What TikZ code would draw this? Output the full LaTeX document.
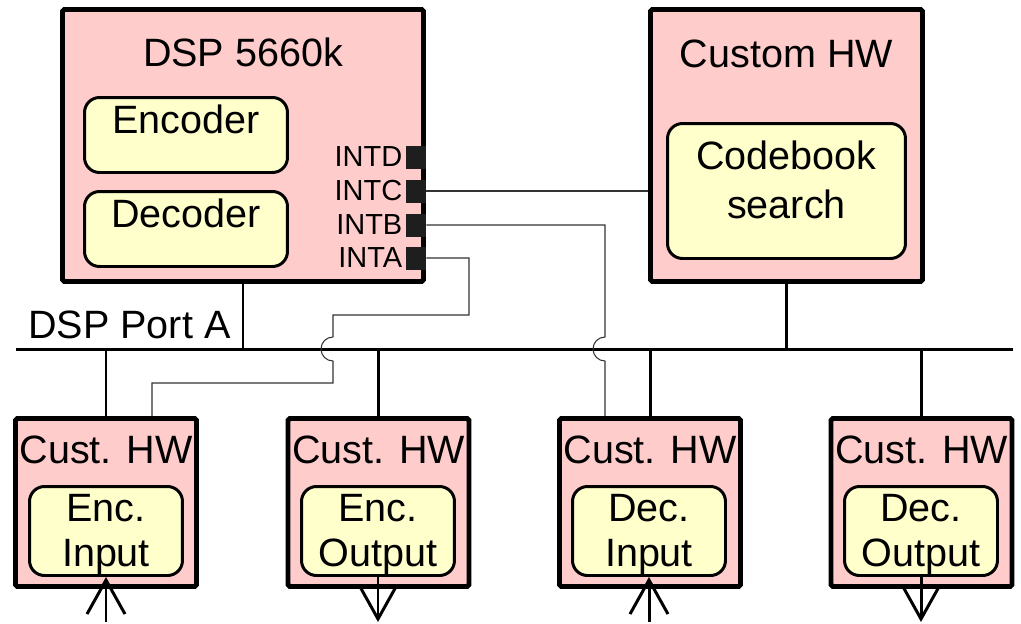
\documentclass[tikz,border=0pt]{standalone}
\usepackage{fontspec}
\setmainfont{Liberation Sans}
\usetikzlibrary{positioning,calc,arrows.meta}

\definecolor{hwpink}{RGB}{255,204,204}
\definecolor{modyellow}{RGB}{255,255,204}
\definecolor{portgray}{RGB}{30,30,30}

\tikzset{
  hwbox/.style={draw, fill=hwpink, line width=2.8pt, inner sep=0pt, rounded corners=1pt},
  modbox/.style={draw, fill=modyellow, line width=1.7pt, inner sep=0pt, rounded corners=0.3cm},
  port/.style={fill=portgray, minimum width=0.4cm, minimum height=0.46cm, inner sep=0pt},
  lbl/.style={inner sep=0pt, align=center, font=\fontsize{22.5}{25.5}\selectfont},
  portlbl/.style={inner sep=0pt, font=\fontsize{16.5}{18}\selectfont},
  bus/.style={line width=1.7pt},
  sig/.style={line width=0.6pt, draw=black!80},
  io/.style={line width=1.7pt, -{Straight Barb[length=6.8mm, width=7.6mm]}}
}

\begin{document}
\begin{tikzpicture}[x=0.02cm, y=-0.02cm]
\useasboundingbox (0,0) rectangle (1021,623);

%Declare nodes.
\node[hwbox, minimum width=7.22cm, minimum height=5.44cm] (dsp) at (243,145.5) {};
\node[lbl, anchor=base] (dsplbl) at (243,66) {DSP 5660k};
\node[modbox, minimum width=4.06cm, minimum height=1.5cm] (enc) at (186,135) {};
\node[lbl, anchor=base] (enclbl) at (186,133) {Encoder};
\node[modbox, minimum width=4.06cm, minimum height=1.5cm] (dec) at (186,229) {};
\node[lbl, anchor=base] (declbl) at (186,227) {Decoder};

\node[port] (intd) at (416,157) {};
\node[port] (intc) at (416,191) {};
\node[port] (intb) at (416,225) {};
\node[port] (inta) at (416,258) {};
\node[portlbl, left=0.06cm of intd] {INTD};
\node[portlbl, left=0.06cm of intc] {INTC};
\node[portlbl, left=0.06cm of intb] {INTB};
\node[portlbl, left=0.06cm of inta] {INTA};

\node[hwbox, minimum width=5.44cm, minimum height=5.44cm] (chw) at (786.5,145.5) {};
\node[lbl, anchor=base] (chwlbl) at (786.5,67) {Custom HW};
\node[modbox, minimum width=4.76cm, minimum height=2.7cm] (cbs) at (786.5,191) {};
\node[lbl, anchor=north] (cbslbl) at (786.5,140) {Codebook\\[2.8pt]search};

\node[lbl, anchor=base west] (portlbl) at (28,338) {DSP Port A};
\coordinate (busl) at (16,349);
\coordinate (busr) at (1013,349);

\node[hwbox, minimum width=3.62cm, minimum height=3.36cm] (hwa) at (106,502.5) {};
\node[hwbox, minimum width=3.62cm, minimum height=3.36cm] (hwb) at (378.5,502.5) {};
\node[hwbox, minimum width=3.62cm, minimum height=3.36cm] (hwc) at (650,502.5) {};
\node[hwbox, minimum width=3.62cm, minimum height=3.36cm] (hwd) at (921.5,502.5) {};
\node[lbl, anchor=base] at (106,463) {Cust. HW};
\node[lbl, anchor=base] at (378.5,463) {Cust. HW};
\node[lbl, anchor=base] at (650,463) {Cust. HW};
\node[lbl, anchor=base] at (921.5,463) {Cust. HW};

\node[modbox, minimum width=3.06cm, minimum height=1.78cm] (encin) at (106,531) {};
\node[modbox, minimum width=3.06cm, minimum height=1.78cm] (encout) at (378,531) {};
\node[modbox, minimum width=3.06cm, minimum height=1.78cm] (decin) at (649,531) {};
\node[modbox, minimum width=3.06cm, minimum height=1.78cm] (decout) at (921,531) {};
\node[lbl, anchor=north] at (106,494) {Enc.\\Input};
\node[lbl, anchor=north] at (378,494) {Enc.\\Output};
\node[lbl, anchor=north] at (649,494) {Dec.\\Input};
\node[lbl, anchor=north] at (921,494) {Dec.\\Output};

\coordinate (ja) at (333,349);
\coordinate (jb) at (605,349);
\coordinate (ta1) at (469,315);
\coordinate (ta2) at (333,383);
\coordinate (bot) at (0,622);

%Setup edges.
\draw[bus] (busl) -- (busr);
\draw[bus] (dsp.south) -- (dsp.south |- busl);
\draw[bus] (chw.south) -- (chw.south |- busl);
\draw[bus] (hwa.north |- busl) -- (hwa.north);
\draw[bus] (hwb.north |- busl) -- (hwb.north);
\draw[bus] (hwc.north |- busl) -- (hwc.north);
\draw[bus] (hwd.north |- busl) -- (hwd.north);

\draw[sig] (intc.east) -- (intc.east -| chw.west);
\draw[sig] (intb.east) -| ($(jb)+(0,-12)$) arc[start angle=270, end angle=90, radius=12] -- (jb |- hwc.north);
\draw[sig] (inta.east) -| (ta1) -| ($(ja)+(0,-12)$) arc[start angle=270, end angle=90, radius=12] -- (ta2) -| ($(hwa.north)+(46,0)$);

\draw[io] (encin.south |- bot) -- (encin.south);
\draw[io] (encout.south) -- (encout.south |- bot);
\draw[io] (decin.south |- bot) -- (decin.south);
\draw[io] (decout.south) -- (decout.south |- bot);

\end{tikzpicture}
\end{document}
